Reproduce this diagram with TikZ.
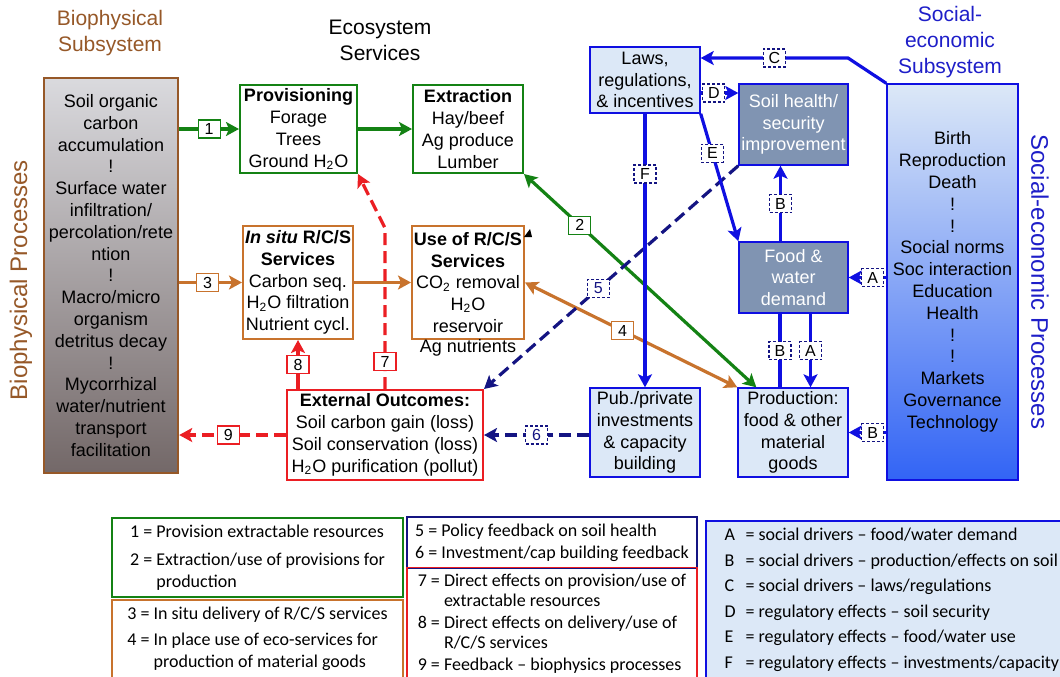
\documentclass[tikz,border=0pt]{standalone}
\usepackage{fontspec}
\setmainfont{Liberation Sans}
\newfontfamily\legendfont{Carlito}
\usetikzlibrary{arrows.meta,positioning,calc}

\definecolor{biobrown}{RGB}{150,88,40}
\definecolor{biotop}{RGB}{218,218,222}
\definecolor{biobottom}{RGB}{115,104,104}
\definecolor{provgreen}{RGB}{20,130,20}
\definecolor{rcsorange}{RGB}{200,115,45}
\definecolor{outred}{RGB}{235,30,35}
\definecolor{socblue}{RGB}{15,15,225}
\definecolor{polnavy}{RGB}{20,20,130}
\definecolor{paleblue}{RGB}{220,232,247}
\definecolor{slateblue}{RGB}{128,148,178}
\definecolor{deepblue}{RGB}{50,100,245}
\definecolor{titleblue}{RGB}{30,30,200}

\begin{document}
\begin{tikzpicture}[x=0.5pt, y=-0.5pt,
    >={Stealth[length=6.5pt,width=7pt,inset=1.5pt]},
    boxtext/.style={font=\fontsize{9}{10.9}\selectfont, align=center, inner sep=1pt},
    provbox/.style={boxtext, draw=provgreen, line width=1pt, fill=white},
    rcsbox/.style={boxtext, draw=rcsorange, line width=1pt, fill=white},
    outbox/.style={boxtext, draw=outred, line width=1pt, fill=white},
    socbox/.style={boxtext, draw=socblue, line width=0.7pt, fill=paleblue},
    drivbox/.style={boxtext, draw=socblue, line width=0.7pt, fill=slateblue, text=white},
    titletext/.style={font=\fontsize{10.5}{13}\selectfont, align=center},
    sidetext/.style={font=\fontsize{12}{14}\selectfont},
    grarrow/.style={draw=provgreen, line width=1.6pt},
    orarrow/.style={draw=rcsorange, line width=1.6pt},
    redarrow/.style={draw=outred, line width=1.6pt},
    reddash/.style={redarrow, dash pattern=on 6pt off 3pt},
    bluarrow/.style={draw=socblue, line width=1.6pt},
    navdash/.style={draw=polnavy, line width=1.6pt, dash pattern=on 6pt off 3pt},
    numlab/.style={solid, draw, fill=white, text=black, font=\fontsize{8}{9}\selectfont, inner sep=0.5pt, minimum width=11pt, minimum height=9pt, line width=0.6pt},
    letlab/.style={numlab, draw=polnavy, dash pattern=on 1.5pt off 1pt},
    legbox/.style={font=\legendfont\fontsize{9}{11}\selectfont, align=left, line width=0.8pt}
]
\useasboundingbox (0,0) rectangle (1060,676);

% titles
\node[titletext, text=biobrown] (biotitle) at (110,33) {Biophysical\\Subsystem};
\node[titletext] (esstitle) at (380,40) {Ecosystem\\Services};
\node[titletext, text=titleblue] (soctitle) at (950,42) {Social-\\economic\\Subsystem};
\node[sidetext, text=biobrown, rotate=90] (bioproc) at (21,280) {Biophysical Processes};
\node[sidetext, text=titleblue, rotate=-90] (socproc) at (1040,282) {Social-economic Processes};

% biophysical subsystem
\node[boxtext, draw=biobrown, line width=1.2pt, top color=biotop, bottom color=biobottom, minimum width=67pt, minimum height=197.5pt] (bio) at (111,275.5)
    {Soil organic\\carbon\\accumulation\\!\\Surface water\\infiltration/\\percolation/rete\\ntion\\!\\Macro/micro\\organism\\detritus decay\\!\\Mycorrhizal\\water/nutrient\\transport\\facilitation};

% ecosystem services
\node[provbox, minimum width=58.5pt, minimum height=44pt] (prov) at (298.5,129) {\textbf{Provisioning}\\Forage\\Trees\\Ground H\textsubscript{2}O};
\node[provbox, minimum width=55pt, minimum height=44pt] (extr) at (468,129) {\textbf{Extraction}\\Hay/beef\\Ag produce\\Lumber};
\node[rcsbox, minimum width=55pt, minimum height=56.5pt] (insitu) at (298,282.5) {\textbf{\textit{In situ} R/C/S}\\\textbf{Services}\\Carbon seq.\\H\textsubscript{2}O filtration\\Nutrient cycl.};
\node[rcsbox, minimum width=55pt, minimum height=56.5pt] (use) at (468,282.5) {\textbf{Use of R/C/S}\\\textbf{Services}\\CO\textsubscript{2} removal\\H\textsubscript{2}O\\reservoir};
\node[boxtext] (usenote) at (468,348) {Ag nutrients};
\fill (524,237) -- (530,229) -- (532,237) -- cycle;
\node[outbox, minimum width=98pt, minimum height=45pt] (ext) at (385,435) {\textbf{External Outcomes:}\\Soil carbon gain (loss)\\Soil conservation (loss)\\H\textsubscript{2}O purification (pollut)};

% social-economic subsystem
\node[socbox, minimum width=55pt, minimum height=33pt] (laws) at (645,80) {Laws,\\regulations,\\\& incentives};
\node[drivbox, minimum width=54.5pt, minimum height=40.5pt] (soil) at (793.5,124.5) {Soil health/\\security\\improvement};
\node[drivbox, minimum width=54.5pt, minimum height=35.5pt] (food) at (793.5,277.5) {Food \&\\water\\demand};
\node[socbox, minimum width=55pt, minimum height=44.5pt] (pub) at (645,432.5) {Pub./private\\investments\\\& capacity\\building};
\node[socbox, minimum width=55pt, minimum height=44.5pt] (prodn) at (793,432.5) {Production:\\food \& other\\material\\goods};
\node[boxtext, draw=socblue, line width=0.7pt, top color=paleblue, bottom color=deepblue, minimum width=65.5pt, minimum height=198pt] (socio) at (952.5,282)
    {Birth\\Reproduction\\Death\\!\\!\\Social norms\\Soc interaction\\Education\\Health\\!\\!\\Markets\\Governance\\Technology};

% ecosystem service flows
\draw[grarrow, ->] (bio.east |- prov.west) -- node[numlab, draw=provgreen] (lab1) {1} (prov.west);
\draw[grarrow, ->] (prov.east) -- (extr.west);
\draw[orarrow, ->] (bio.east |- insitu.west) -- node[numlab, draw=rcsorange, pos=0.45] (lab3) {3} (insitu.west);
\draw[orarrow, ->] (insitu.east) -- (use.west);
\draw[orarrow, <->] (use.east) -- node[numlab, draw=rcsorange, pos=0.46] (lab4) {4} (prodn.north west);
\draw[grarrow, <->] ([xshift=9.5pt]prodn.north west) -- node[numlab, draw=provgreen, pos=0.76] (lab2) {2} (extr.south east);

% outcome feedbacks
\coordinate (bend7) at (385,228);
\draw[reddash, ->] (ext.north) -- node[numlab, draw=outred, pos=0.17] (lab7) {7} (bend7) -- (prov.south east);
\draw[redarrow, ->] (insitu.south |- ext.north) -- node[numlab, draw=outred] (lab8) {8} (insitu.south);
\draw[reddash, ->] (ext.west) -- node[numlab, draw=outred, pos=0.54] (lab9) {9} (bio.east |- ext.west);

% policy feedbacks
\draw[navdash, ->] (soil.south west) -- node[letlab, text=polnavy, pos=0.55] (lab5) {5} (ext.north east);
\draw[navdash, ->] (pub.west |- ext.east) -- node[letlab, text=polnavy] (lab6) {6} (ext.east);

% social drivers and regulatory effects
\coordinate (bendC) at (848,58);
\draw[bluarrow, ->] (socio.north west) -- (bendC) -- node[letlab] (labC) {C} (laws.east |- bendC);
\coordinate (startD) at ([yshift=-6.5pt]laws.east);
\draw[bluarrow, ->] (startD) -- node[letlab, pos=0.35] (labD) {D} (startD -| soil.west);
\draw[bluarrow, ->] (laws.south east) -- node[letlab, pos=0.31] (labE) {E} (food.north west);
\draw[bluarrow, ->] (laws.south) -- node[letlab, pos=0.22] (labF) {F} (pub.north);
\draw[bluarrow, ->] ([xshift=-6.5pt]food.north) -- node[letlab] (labB1) {B} ([xshift=-6.5pt]food.north |- soil.south);
\draw[bluarrow] ([xshift=-6.5pt]prodn.north) -- node[letlab] (labB2) {B} ([xshift=-6.5pt]prodn.north |- food.south);
\draw[bluarrow, ->] ([xshift=8.5pt]food.south) -- node[letlab] (labA1) {A} ([xshift=8.5pt]food.south |- prodn.north);
\draw[bluarrow, ->] (socio.west |- food.east) -- node[letlab, pos=0.36] (labA2) {A} (food.east);
\draw[bluarrow, ->] (socio.west |- prodn.east) -- node[letlab, pos=0.36] (labB3) {B} (prodn.east);

% legend
\node[legbox, draw=provgreen, minimum width=145.5pt, minimum height=37.5pt] (leg12) at (257.5,557.5)
    {1 = Provision extractable resources\\[3pt]
     2 = Extraction/use of provisions for\\
     \hphantom{2 = }production};
\node[legbox, draw=rcsorange, minimum width=145.5pt, minimum height=39pt] (leg34) at (257.5,639)
    {3 = In situ delivery of R/C/S services\\[2pt]
     4 = In place use of eco-services for\\
     \hphantom{4 = }production of material goods};
\node[legbox, draw=polnavy, minimum width=145pt, minimum height=22.5pt] (leg56) at (552,542.5)
    {5 = Policy feedback on soil health\\
     6 = Investment/cap building feedback};
\node[legbox, draw=outred, minimum width=145pt, minimum height=54pt] (leg79) at (552,624)
    {7 = Direct effects on provision/use of\\[-1pt]
     \hphantom{7 = }extractable resources\\
     8 = Direct effects on delivery/use of\\[-1pt]
     \hphantom{8 = }R/C/S services\\
     9 = Feedback – biophysics processes};
\node[legbox, draw=socblue, fill=paleblue, minimum width=186pt, minimum height=79pt, anchor=north west, inner xsep=5.5pt] (legAF) at (705,520)
    {\makebox[10.5pt][l]{A}= social drivers – food/water demand\\[1.8pt]
     \makebox[10.5pt][l]{B}= social drivers – production/effects on soil\\[1.8pt]
     \makebox[10.5pt][l]{C}= social drivers – laws/regulations\\[1.8pt]
     \makebox[10.5pt][l]{D}= regulatory effects – soil security\\[1.8pt]
     \makebox[10.5pt][l]{E}= regulatory effects – food/water use\\[1.8pt]
     \makebox[10.5pt][l]{F}= regulatory effects – investments/capacity};
\end{tikzpicture}
\end{document}
